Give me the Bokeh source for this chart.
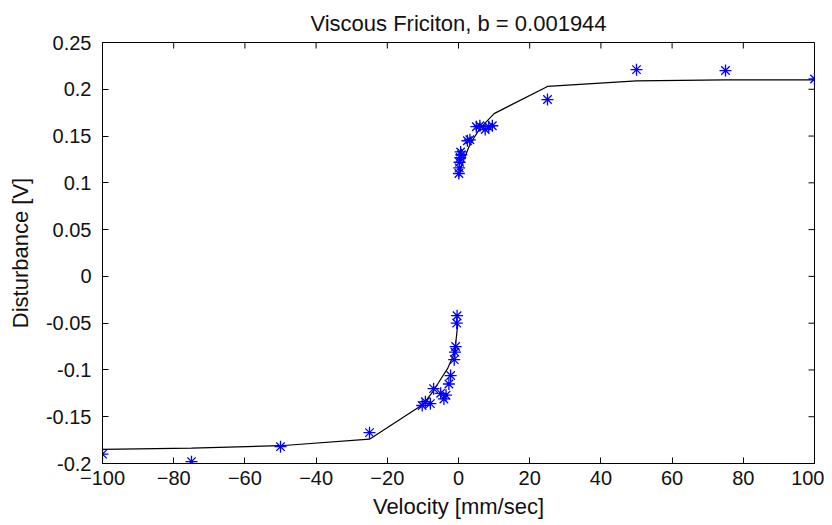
import math
from bokeh.plotting import figure
from bokeh.models import FixedTicker, Range1d
from bokeh.embed import file_html
from bokeh.resources import INLINE

# ---- data ----
pos_v = [0.1, 0.2, 0.3, 0.5, 0.6, 0.8, 2.5, 3.2, 5.0, 6.0, 7.5, 8.5, 9.5, 25, 50, 75, 100]
pos_d = [0.110, 0.116, 0.122, 0.127, 0.133, 0.130, 0.145, 0.146, 0.160, 0.161, 0.157, 0.160, 0.161,
         0.189, 0.221, 0.220, 0.211]

neg_v = [-100, -75, -50, -25, -10.2, -9.3, -7.9, -7, -5, -4.1, -3.5, -2.7, -2.2, -1.2, -1.0, -0.8, -0.5, -0.4]
neg_d = [-0.190, -0.198, -0.182, -0.167, -0.138, -0.134, -0.136, -0.120, -0.125, -0.131, -0.127,
         -0.115, -0.106, -0.089, -0.081, -0.075, -0.050, -0.042]

fit_pos_v = [0.1, 1, 3, 4, 6, 10, 25, 50, 75, 100]
fit_pos_d = [0.106, 0.120, 0.139, 0.146, 0.158, 0.174, 0.203, 0.209, 0.210, 0.210]
fit_neg_v = [-100, -75, -50, -25, -10, -7, -5, -3, -1.5, -0.8, -0.2]
fit_neg_d = [-0.185, -0.1835, -0.181, -0.174, -0.137, -0.122, -0.110, -0.098, -0.085, -0.072, -0.051]

x_ticks = [-100, -80, -60, -40, -20, 0, 20, 40, 60, 80, 100]
y_ticks = [-0.2, -0.15, -0.1, -0.05, 0, 0.05, 0.1, 0.15, 0.2, 0.25]
y_tick_labels = ["-0.2", "-0.15", "-0.1", "-0.05", "0", "0.05", "0.1", "0.15", "0.2", "0.25"]
x_min, x_max = -100, 100
y_min, y_max = -0.2, 0.25

title_text = "Viscous Friciton, b = 0.001944"
x_label = "Velocity [mm/sec]"
y_label = "Disturbance [V]"

FONT = "Liberation Sans"
TICK_FS = "20px"
LABEL_FS = "22px"
TITLE_FS = "22px"
TICK_LEN = 6

p = figure(width=824, height=525, output_backend="svg", toolbar_location=None,
           x_range=Range1d(x_min, x_max), y_range=Range1d(y_min, y_max),
           min_border_left=102, min_border_right=10, min_border_top=42, min_border_bottom=62,
           title=title_text)

p.title.text_font = FONT
p.title.text_font_size = TITLE_FS
p.title.text_font_style = "normal"
p.title.align = "center"
p.title.text_color = "#111111"
p.title.standoff = 14

p.xgrid.visible = False
p.ygrid.visible = False
p.outline_line_color = "black"
p.outline_line_width = 1
p.background_fill_color = "white"
p.border_fill_color = "white"

p.xaxis.ticker = FixedTicker(ticks=x_ticks)
p.yaxis.ticker = FixedTicker(ticks=y_ticks)
p.yaxis.major_label_overrides = {t: l for t, l in zip(y_ticks, y_tick_labels)}
p.xaxis.axis_label = x_label
p.yaxis.axis_label = y_label

for ax in (p.xaxis[0], p.yaxis[0]):
    ax.major_tick_in = TICK_LEN
    ax.major_tick_out = 0
    ax.minor_tick_in = 0
    ax.minor_tick_out = 0
    ax.axis_line_color = "black"
    ax.major_tick_line_color = "black"
    ax.major_label_text_font = FONT
    ax.major_label_text_font_size = TICK_FS
    ax.major_label_text_color = "#111111"
    ax.axis_label_text_font = FONT
    ax.axis_label_text_font_size = LABEL_FS
    ax.axis_label_text_font_style = "normal"
    ax.axis_label_text_color = "#111111"
p.xaxis.major_label_standoff = 7
p.xaxis.axis_label_standoff = 6
p.yaxis.major_label_standoff = 11
p.yaxis.axis_label_standoff = 10

# mirrored inward ticks on top and right edges (box on)
p.ray(x=x_ticks, y=[y_max] * len(x_ticks), length=TICK_LEN, length_units="screen",
      angle=-math.pi / 2, line_color="black", line_width=1)
p.ray(x=[x_max] * len(y_ticks), y=y_ticks, length=TICK_LEN, length_units="screen",
      angle=math.pi, line_color="black", line_width=1)

p.line(fit_neg_v, fit_neg_d, line_color="black", line_width=1.2)
p.line(fit_pos_v, fit_pos_d, line_color="black", line_width=1.2)

p.scatter(neg_v, neg_d, marker="asterisk", size=12, line_color="#0000ff", line_width=1.3)
p.scatter(pos_v, pos_d, marker="asterisk", size=12, line_color="#0000ff", line_width=1.3)

open("out.html", "w").write(file_html(p, INLINE))
